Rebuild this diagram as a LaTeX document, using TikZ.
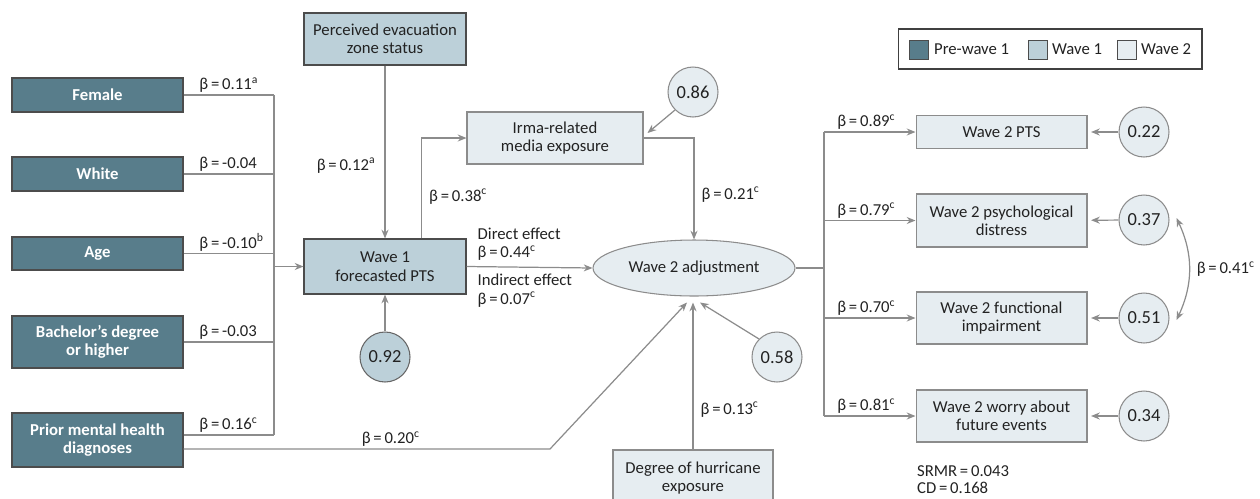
\documentclass[tikz,border=0pt]{standalone}
\usepackage{fontspec}
\setmainfont{Carlito}
\usetikzlibrary{arrows.meta,calc,shapes.geometric}
\definecolor{prewave}{HTML}{587D8B}
\definecolor{waveone}{HTML}{BCD0D9}
\definecolor{wavetwo}{HTML}{E6EDF1}
\definecolor{linegray}{HTML}{8C8C8C}
\definecolor{ink}{HTML}{222222}
\newcommand{\betaval}[2]{β\,=\,#1\textsuperscript{#2}}

\tikzset{
  box/.style={rectangle,draw=linegray,line width=0.6pt,align=center,text=ink,
    inner sep=1pt,font=\fontsize{9.5}{10.5}\selectfont},
  prebox/.style={box,fill=prewave,draw=black!70,text=white,
    minimum width=3.42cm,font=\fontsize{9.5}{10.5}\selectfont\bfseries},
  oneBox/.style={box,fill=waveone,draw=black!70},
  twoBox/.style={box,fill=wavetwo},
  errc/.style={circle,draw=linegray,line width=0.6pt,fill=wavetwo,minimum size=1cm,
    inner sep=0pt,text=ink,font=\fontsize{10.5}{12}\selectfont},
  lab/.style={text=ink,inner sep=1pt,font=\fontsize{9.5}{10.5}\selectfont},
  path/.style={draw=linegray,line width=0.7pt},
  >={Stealth[length=5pt,width=4pt]}
}

\begin{document}
\begin{tikzpicture}[x=0.02cm,y=-0.02cm]
\useasboundingbox (0,0) rectangle (1260,498);

% pre-wave 1 predictors
\node[prebox,minimum height=0.68cm](female) at (97.5,95) {Female};
\node[prebox,minimum height=0.68cm](white) at (97.5,174) {White};
\node[prebox,minimum height=0.66cm](age) at (97.5,253.5) {Age};
\node[prebox,minimum height=1.04cm](bach) at (97.5,342) {Bachelor’s degree\\or higher};
\node[prebox,minimum height=1.08cm](prior) at (97.5,440) {Prior mental health\\diagnoses};

% wave 1
\node[oneBox,minimum width=3.24cm,minimum height=1.04cm](evac) at (385,39) {Perceived evacuation\\zone status};
\node[oneBox,minimum width=3.24cm,minimum height=1.1cm](wave1) at (385,266.5) {Wave 1\\forecasted PTS};
\node[errc,fill=waveone,draw=black!60](c92) at (385,357) {0.92};

% wave 2
\node[twoBox,minimum width=3.52cm,minimum height=1.04cm](irma) at (555,138) {Irma-related\\media exposure};
\node[errc](c86) at (693,92) {0.86};
\node[twoBox,ellipse,minimum width=4.04cm,minimum height=1.12cm](adj) at (694,268) {Wave 2 adjustment};
\node[twoBox,minimum width=3.2cm,minimum height=1.12cm](hurr) at (693,478) {Degree of hurricane\\exposure};
\node[errc](c58) at (777,357) {0.58};

\node[twoBox,minimum width=3.42cm,minimum height=0.66cm](pts) at (1001.5,132) {Wave 2 PTS};
\node[twoBox,minimum width=3.42cm,minimum height=1.06cm](distress) at (1001.5,220.5) {Wave 2 psychological\\distress};
\node[twoBox,minimum width=3.42cm,minimum height=1.04cm](func) at (1001.5,318) {Wave 2 functional\\impairment};
\node[twoBox,minimum width=3.42cm,minimum height=1.04cm](worry) at (1001.5,416) {Wave 2 worry about\\future events};
\node[errc](c22) at (1144,132) {0.22};
\node[errc](c37) at (1144,220) {0.37};
\node[errc](c51) at (1144,318) {0.51};
\node[errc](c34) at (1144,416) {0.34};

% legend
\node[rectangle,draw=black!75,line width=0.6pt,minimum width=6.08cm,minimum height=0.8cm](legend) at (1050,49) {};
\node[rectangle,draw=black!70,fill=prewave,minimum size=0.38cm,inner sep=0pt](sw1) at (918.5,49.5) {};
\node[lab,anchor=west](lg1) at (932,49) {Pre-wave 1};
\node[rectangle,draw=black!70,fill=waveone,minimum size=0.38cm,inner sep=0pt](sw2) at (1037.5,49.5) {};
\node[lab,anchor=west](lg2) at (1050,49) {Wave 1};
\node[rectangle,draw=black!70,fill=wavetwo,minimum size=0.38cm,inner sep=0pt](sw3) at (1126.5,49.5) {};
\node[lab,anchor=west](lg3) at (1139,49) {Wave 2};

\node[lab,align=left,anchor=west,font=\fontsize{9.5}{9.7}\selectfont](fit) at (915,480) {SRMR\,=\,0.043\\CD\,=\,0.168};

% bus to wave 1
\coordinate (busL) at (274,0);
\coordinate (busLtop) at (274,95);
\coordinate (busLbot) at (274,435);
\path[path] (busLtop) -- (busLbot);
\path[path] (female.east) -- node[lab,anchor=south west,pos=0.15]{\betaval{0.11}{a}} (female.east -| busL);
\path[path] (white.east) -- node[lab,anchor=south west,pos=0.15]{\betaval{-0.04}{}} (white.east -| busL);
\path[path] (age.east) -- node[lab,anchor=south west,pos=0.15]{\betaval{-0.10}{b}} (age.east -| busL);
\path[path] (bach.east) -- node[lab,anchor=south west,pos=0.15]{\betaval{-0.03}{}} (bach.east -| busL);
\path[path] ($(prior.east)+(0,-5)$) -- node[lab,anchor=south west,pos=0.15]{\betaval{0.16}{c}} (busLbot);
\path[path,->] (wave1.west -| busL) -- (wave1.west);

\path[path,->] (evac.south) -- node[lab,anchor=east,pos=0.58,xshift=-4pt]{\betaval{0.12}{a}} (wave1.north);
\path[path,->] (c92) -- (wave1.south);

% wave 1 to wave 2
\path[path,->] ($(wave1.north west)+(118,0)$) |- node[lab,anchor=west,pos=0.21,xshift=3pt]{\betaval{0.38}{c}} (irma.west);
\path[path,->] (c86.south west) -- ($(irma.east)+(4,-5)$);
\path[path,->] (irma.east) -| node[lab,anchor=west,pos=0.78,xshift=3pt]{\betaval{0.21}{c}} (adj.north);
\path[path,->] (wave1.east) --
  node[lab,align=left,anchor=south west,pos=0.07,yshift=2pt]{Direct effect\\\betaval{0.44}{c}}
  node[lab,align=left,anchor=north west,pos=0.07,yshift=-3pt]{Indirect effect\\\betaval{0.07}{c}} (adj.west);

\coordinate (bend20) at (550,449);
\path[path,->] ($(prior.east)+(0,9)$) -- node[lab,anchor=south west,pos=0.48]{\betaval{0.20}{c}} (bend20) -- ($(adj.south)+(-7,6)$);
\path[path,->] (hurr.north) -- node[lab,anchor=west,pos=0.27,xshift=3pt]{\betaval{0.13}{c}} ($(adj.south)+(-1,6)$);
\path[path,->] (c58.north west) -- ($(adj.south)+(6,6)$);

% wave 2 outcomes
\coordinate (busR) at (824,0);
\coordinate (busRtop) at (824,132);
\coordinate (busRbot) at (824,416);
\path[path] (adj.east) -- (adj.east -| busR);
\path[path] (busRtop) -- (busRbot);
\path[path,->] (busRtop) -- node[lab,anchor=south west,pos=0.12]{\betaval{0.89}{c}} (pts.west);
\path[path,->] (distress.west -| busR) -- node[lab,anchor=south west,pos=0.12]{\betaval{0.79}{c}} (distress.west);
\path[path,->] (func.west -| busR) -- node[lab,anchor=south west,pos=0.12]{\betaval{0.70}{c}} (func.west);
\path[path,->] (busRbot) -- node[lab,anchor=south west,pos=0.12]{\betaval{0.81}{c}} (worry.west);

\path[path,->,shorten >=2pt] (c22) -- (pts);
\path[path,->,shorten >=2pt] (c37) -- (distress);
\path[path,->,shorten >=2pt] (c51) -- (func);
\path[path,->,shorten >=2pt] (c34) -- (worry);
\path[path,<->] ($(c37.east)+(7,-2)$) to[bend left=25] node[lab,anchor=west,xshift=3pt]{\betaval{0.41}{c}} ($(c51.east)+(7,2)$);

\end{tikzpicture}
\end{document}
